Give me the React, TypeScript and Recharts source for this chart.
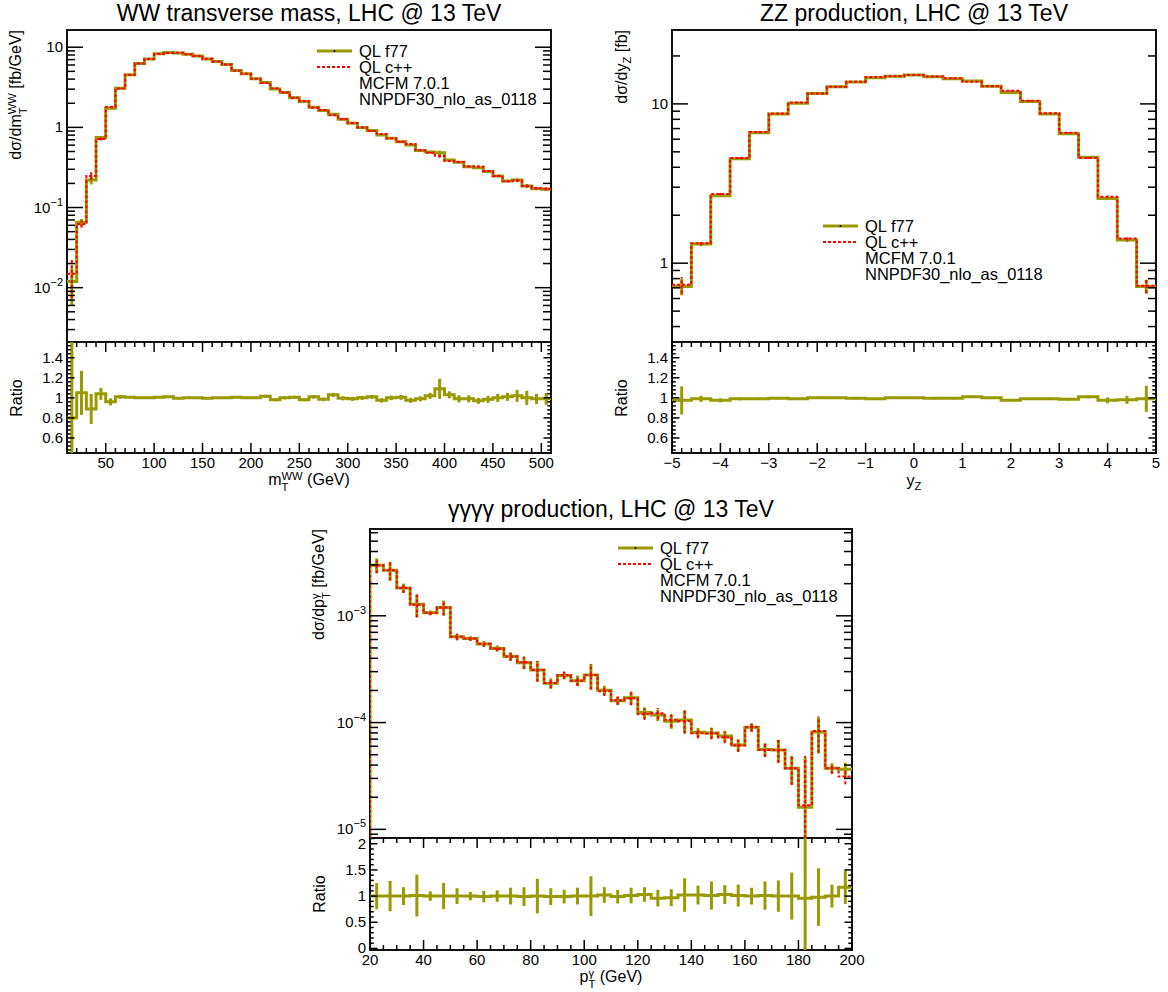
import React from "react";
import { ComposedChart, ErrorBar, Line, XAxis, YAxis } from "recharts";

const FONT = '"Liberation Sans", Arial, Helvetica, sans-serif';
const OLIVE = "#999900";
const RED = "#ff0000";

// WW transverse mass, 10 GeV bins from 10 to 510 GeV
const wwRange: [number, number] = [10, 510];
const wwF77 = [
  0.0119, 0.0653, 0.221, 0.745, 1.73, 3.08, 4.52, 6.25, 7.15, 8.26,
  8.58, 8.5, 8.18, 7.79, 7.15, 6.62, 6.08, 5.12, 4.65, 4.03,
  3.62, 3.02, 2.72, 2.35, 2.1, 1.78, 1.62, 1.46, 1.26, 1.125,
  0.993, 0.911, 0.805, 0.731, 0.664, 0.604, 0.513, 0.494, 0.484, 0.392,
  0.366, 0.323, 0.314, 0.281, 0.248, 0.214, 0.221, 0.186, 0.172, 0.169,
];
const wwCpp = [
  0.0149, 0.0622, 0.248, 0.716, 1.8, 3.05, 4.5, 6.25, 7.15, 8.22,
  8.5, 8.54, 8.18, 7.79, 7.19, 6.62, 6.08, 5.09, 4.65, 4.03,
  3.57, 3.08, 2.72, 2.34, 2.14, 1.76, 1.645, 1.42, 1.266, 1.136,
  0.993, 0.902, 0.826, 0.731, 0.661, 0.619, 0.518, 0.484, 0.444, 0.381,
  0.37, 0.326, 0.324, 0.285, 0.248, 0.212, 0.217, 0.186, 0.174, 0.171,
];
const wwRelErr = [
  0.5, 0.1, 0.12, 0.045, 0.025, 0.012, 0.009, 0.007, 0.006, 0.006,
  0.006, 0.006, 0.006, 0.006, 0.006, 0.006, 0.007, 0.007, 0.007, 0.008,
  0.008, 0.008, 0.009, 0.009, 0.01, 0.01, 0.011, 0.011, 0.012, 0.012,
  0.013, 0.013, 0.014, 0.015, 0.015, 0.016, 0.017, 0.018, 0.06, 0.02,
  0.02, 0.022, 0.022, 0.024, 0.025, 0.026, 0.04, 0.045, 0.035, 0.04,
];
const wwRatio = [
  0.8, 1.05, 0.89, 1.04, 0.96, 1.01, 1.005, 1.0, 1.0, 1.005,
  1.01, 0.995, 1.0, 1.0, 0.995, 1.0, 1.0, 1.005, 1.0, 1.0,
  1.015, 0.98, 1.0, 1.005, 0.98, 1.01, 0.985, 1.03, 0.995, 0.99,
  1.0, 1.01, 0.975, 1.0, 1.005, 0.975, 0.99, 1.02, 1.09, 1.03,
  0.99, 0.99, 0.97, 0.985, 1.0, 1.01, 1.02, 1.0, 0.99, 0.99,
];
const wwRatioErr = [
  0.9, 0.22, 0.15, 0.06, 0.035, 0.02, 0.012, 0.01, 0.01, 0.01,
  0.01, 0.01, 0.01, 0.01, 0.01, 0.01, 0.01, 0.01, 0.012, 0.012,
  0.015, 0.015, 0.015, 0.015, 0.015, 0.018, 0.018, 0.02, 0.02, 0.02,
  0.02, 0.02, 0.022, 0.022, 0.025, 0.025, 0.025, 0.03, 0.1, 0.035,
  0.035, 0.035, 0.03, 0.035, 0.04, 0.04, 0.06, 0.07, 0.05, 0.06,
];

// ZZ rapidity, 0.4 bins from -5 to 5
const zzRange: [number, number] = [-5, 5];
const zzF77 = [
  0.714, 1.32, 2.65, 4.52, 6.6, 8.65, 10.1, 11.6, 12.8, 13.7, 14.6, 14.9, 15.2,
  14.8, 14.4, 13.9, 12.9, 11.8, 10.35, 8.65, 6.5, 4.62, 2.55, 1.4, 0.714,
];
const zzCpp = [
  0.732, 1.333, 2.718, 4.566, 6.667, 8.693, 10.2, 11.6, 12.8, 13.77, 14.75, 14.9, 15.2,
  14.87, 14.47, 13.76, 12.9, 12.1, 10.45, 8.737, 6.599, 4.574, 2.615, 1.429, 0.721,
];
const zzRelErr = [
  0.12, 0.03, 0.015, 0.01, 0.008, 0.007, 0.007, 0.006, 0.006, 0.006, 0.006, 0.006, 0.006,
  0.006, 0.006, 0.006, 0.006, 0.006, 0.007, 0.007, 0.008, 0.01, 0.015, 0.03, 0.1,
];
const zzRatio = [
  0.975, 0.99, 0.975, 0.99, 0.99, 0.995, 0.99, 1.0, 1.0, 0.995, 0.99, 1.0, 1.0,
  0.995, 0.995, 1.01, 1.0, 0.975, 0.99, 0.99, 0.985, 1.01, 0.975, 0.98, 0.99,
];
const zzRatioErr = [
  0.14, 0.03, 0.02, 0.015, 0.012, 0.01, 0.01, 0.01, 0.01, 0.01, 0.01, 0.01, 0.01,
  0.01, 0.01, 0.01, 0.01, 0.01, 0.01, 0.012, 0.012, 0.015, 0.03, 0.04, 0.13,
];

// four photon pT, 5 GeV bins from 20 to 200 GeV
const ggRange: [number, number] = [20, 200];
const ggF77 = [
  2.98e-3, 2.67e-3, 1.82e-3, 1.28e-3, 1.067e-3, 1.197e-3, 6.36e-4, 6.14e-4, 5.43e-4,
  4.94e-4, 4.16e-4, 3.63e-4, 3.1e-4, 2.33e-4, 2.76e-4, 2.47e-4, 2.79e-4, 2.01e-4,
  1.6e-4, 1.71e-4, 1.24e-4, 1.175e-4, 1.03e-4, 1.055e-4, 8.1e-5, 8.0e-5, 7.48e-5,
  6.16e-5, 9.02e-5, 5.61e-5, 5.53e-5, 3.73e-5, 1.61e-5, 8.15e-5, 3.73e-5, 3.65e-5,
];
const ggCpp = [
  2.98e-3, 2.67e-3, 1.82e-3, 1.267e-3, 1.067e-3, 1.197e-3, 6.36e-4, 6.14e-4, 5.48e-4,
  4.94e-4, 4.16e-4, 3.67e-4, 3.1e-4, 2.35e-4, 2.79e-4, 2.47e-4, 2.79e-4, 1.97e-4,
  1.62e-4, 1.69e-4, 1.2e-4, 1.224e-4, 1.062e-4, 1.034e-4, 7.94e-5, 7.92e-5, 7.26e-5,
  6.1e-5, 9.02e-5, 5.55e-5, 5.53e-5, 3.73e-5, 1.68e-5, 8.32e-5, 3.73e-5, 3.12e-5,
];
const ggRelErr = [
  0.16, 0.2, 0.1, 0.24, 0.05, 0.16, 0.07, 0.05, 0.06, 0.06, 0.09, 0.13,
  0.22, 0.11, 0.08, 0.11, 0.27, 0.1, 0.09, 0.14, 0.12, 0.12, 0.15, 0.24,
  0.1, 0.12, 0.12, 0.13, 0.09, 0.14, 0.24, 0.3, 1.9, 0.37, 0.11, 0.15,
];
const ggRatio = [
  1.0, 1.0, 1.0, 1.01, 1.0, 1.0, 1.0, 1.0, 0.99, 1.0, 1.0, 0.99,
  1.0, 0.99, 0.99, 1.0, 1.0, 1.02, 0.99, 1.01, 1.03, 0.96, 0.97, 1.02,
  1.02, 1.01, 1.03, 1.01, 1.0, 1.01, 1.0, 1.0, 0.96, 0.98, 1.0, 1.17,
];
const ggRatioErr = [
  0.25, 0.29, 0.17, 0.4, 0.09, 0.25, 0.15, 0.08, 0.11, 0.11, 0.16, 0.18,
  0.33, 0.16, 0.13, 0.16, 0.38, 0.15, 0.13, 0.15, 0.14, 0.16, 0.16, 0.32,
  0.18, 0.27, 0.18, 0.21, 0.16, 0.27, 0.3, 0.45, 1.9, 0.55, 0.22, 0.32,
];

const legendRows = [
  { kind: "f77", text: "QL f77" },
  { kind: "cpp", text: "QL c++" },
  { kind: "", text: "MCFM 7.0.1" },
  { kind: "", text: "NNPDF30_nlo_as_0118" },
];

type Frame = { l: number; r: number; t: number; m: number; b: number };
type TickSpec = {
  major: number[];
  minor: number[];
  majorLen: number;
  minorLen: number;
  fmt?: (v: number) => React.ReactNode;
};

const TICK_FONT = 15;

const edgesOf = ([lo, hi]: [number, number], n: number) =>
  Array.from({ length: n + 1 }, (_, i) => lo + ((hi - lo) * i) / n);

function steps(edges: number[], vals: number[], floor?: number) {
  const pts = vals.map((v, i) => ({ x: edges[i], y: v }));
  pts.push({ x: edges[vals.length], y: vals[vals.length - 1] });
  if (floor !== undefined) pts.unshift({ x: edges[0], y: floor });
  return pts;
}

function centers(edges: number[], vals: number[], errs: number[], dom: [number, number]) {
  return vals.map((v, i) => ({
    x: (edges[i] + edges[i + 1]) / 2,
    y: v,
    e: [Math.min(errs[i], v - dom[0]), Math.min(errs[i], dom[1] - v)],
  }));
}

function linTicks(lo: number, hi: number, step: number, skip: number[] = []) {
  const out: number[] = [];
  const n = Math.round((hi - lo) / step);
  for (let i = 0; i <= n; i++) {
    const v = Number((lo + i * step).toFixed(6));
    if (!skip.some((s) => Math.abs(s - v) < 1e-9)) out.push(v);
  }
  return out;
}

function logMinor([lo, hi]: [number, number]) {
  const out: number[] = [];
  for (let p = Math.floor(Math.log10(lo)); p <= Math.ceil(Math.log10(hi)); p++) {
    for (let m = 2; m <= 9; m++) {
      const v = Number((m * Math.pow(10, p)).toPrecision(6));
      if (v >= lo && v <= hi) out.push(v);
    }
  }
  return out;
}

const pow10 = (v: number): React.ReactNode => {
  const p = Math.round(Math.log10(v));
  if (p === 0) return "1";
  if (p === 1) return "10";
  return (
    <>
      <tspan>10</tspan>
      <tspan dy={-7} fontSize={11}>
        {"\u2212" + -p}
      </tspan>
    </>
  );
};
const plain = (v: number) => (v < 0 ? "\u2212" + Math.abs(v) : String(v));

function yTick(spec: TickSpec, plotW: number) {
  return (props: any) => {
    const { x, y, payload } = props;
    const v = payload.value;
    const major = spec.major.includes(v);
    const len = major ? spec.majorLen : spec.minorLen;
    return (
      <g>
        <line x1={x} y1={y} x2={x + len} y2={y} stroke="#000" strokeWidth={1.5} />
        <line x1={x + plotW} y1={y} x2={x + plotW - len} y2={y} stroke="#000" strokeWidth={1.5} />
        {major && spec.fmt && (
          <text x={x - 4} y={y + 5} textAnchor="end" fontSize={TICK_FONT} fontFamily={FONT} fill="#000">
            {spec.fmt(v)}
          </text>
        )}
      </g>
    );
  };
}

function xTick(spec: TickSpec, plotH: number, labels: boolean) {
  return (props: any) => {
    const { x, y, payload } = props;
    const v = payload.value;
    const major = spec.major.includes(v);
    const len = major ? spec.majorLen : spec.minorLen;
    return (
      <g>
        <line x1={x} y1={y} x2={x} y2={y - len} stroke="#000" strokeWidth={1.5} />
        <line x1={x} y1={y - plotH} x2={x} y2={y - plotH + len} stroke="#000" strokeWidth={1.5} />
        {labels && major && spec.fmt && (
          <text x={x} y={y + 15} textAnchor="middle" fontSize={TICK_FONT} fontFamily={FONT} fill="#000">
            {spec.fmt(v)}
          </text>
        )}
      </g>
    );
  };
}

function SupSub({ sup, sub }: { sup: string; sub: string }) {
  return (
    <span
      style={{
        display: "inline-flex",
        flexDirection: "column",
        alignItems: "flex-start",
        fontSize: "0.7em",
        lineHeight: 1,
        verticalAlign: "0.45em",
      }}
    >
      <span>{sup}</span>
      <span>{sub}</span>
    </span>
  );
}

function RotText({ x, y, center, children }: { x: number; y: number; center?: boolean; children: React.ReactNode }) {
  return (
    <div style={{ position: "absolute", left: x, top: y, width: 0, height: 0 }}>
      <div
        style={{
          position: "absolute",
          left: 0,
          top: 0,
          whiteSpace: "nowrap",
          fontSize: 16,
          transformOrigin: "0 0",
          transform: center ? "rotate(-90deg) translate(-50%, -50%)" : "rotate(-90deg) translate(-100%, -50%)",
        }}
      >
        {children}
      </div>
    </div>
  );
}

function Legend({ x, y }: { x: number; y: number }) {
  return (
    <>
      {legendRows.map((row, i) => (
        <div
          key={i}
          style={{
            position: "absolute",
            left: x,
            top: y + i * 16.3 - 10,
            height: 20,
            display: "flex",
            alignItems: "center",
            fontSize: 16.5,
            whiteSpace: "nowrap",
          }}
        >
          <svg width={35} height={8} style={{ marginRight: 7 }}>
            {row.kind === "f77" && (
              <>
                <line x1={0} y1={4} x2={35} y2={4} stroke={OLIVE} strokeWidth={3} />
                <circle cx={17.5} cy={4} r={1} fill="#000" />
              </>
            )}
            {row.kind === "cpp" && (
              <line x1={0} y1={4} x2={35} y2={4} stroke={RED} strokeWidth={2} strokeDasharray="3 2" />
            )}
          </svg>
          <span>{row.text}</span>
        </div>
      ))}
    </>
  );
}

const PADL = 60;
const PADR = 24;
const PADT = 12;
const PADB = 4;
const RPADT = 4;
const RPADB = 40;

type PanelProps = {
  frame: Frame;
  xDomain: [number, number];
  yDomain: [number, number];
  rDomain: [number, number];
  f77: number[];
  cpp: number[];
  relErr: number[];
  ratio: number[];
  ratioErr: number[];
  xTicks: TickSpec;
  yTicks: TickSpec;
  rTicks: TickSpec;
  floor?: boolean;
  title: string;
  titleY: number;
  yTitle: React.ReactNode;
  xTitle: React.ReactNode;
  legend: { x: number; y: number };
};

function Panel(p: PanelProps) {
  const f = p.frame;
  const w = f.r - f.l;
  const mh = f.m - f.t;
  const rh = f.b - f.m;
  const edges = edgesOf(p.xDomain, p.f77.length);
  const floor = p.floor ? p.yDomain[0] : undefined;
  const f77Steps = steps(edges, p.f77, floor);
  const cppSteps = steps(edges, p.cpp, floor);
  const f77Pts = centers(edges, p.f77, p.f77.map((v, i) => v * p.relErr[i]), p.yDomain);
  const cppPts = centers(edges, p.cpp, p.cpp.map((v, i) => v * p.relErr[i]), p.yDomain);
  const ratioSteps = steps(edges, p.ratio);
  const ratioPts = centers(edges, p.ratio, p.ratioErr, p.rDomain);
  const xAll = [...p.xTicks.major, ...p.xTicks.minor];
  const axisCommon = {
    tickLine: false,
    axisLine: false,
    tickSize: 0,
    tickMargin: 0,
    interval: 0 as const,
    allowDataOverflow: true,
  };
  return (
    <>
      <div
        style={{
          position: "absolute",
          left: f.l - 1,
          top: f.t - 1,
          width: w + 2,
          height: f.b - f.t + 2,
          border: "2px solid #111",
          boxSizing: "border-box",
        }}
      />
      <div style={{ position: "absolute", left: f.l - 1, top: f.m - 1, width: w + 2, height: 2, background: "#111" }} />
      <div style={{ position: "absolute", left: f.l - PADL, top: f.t - PADT }}>
        <ComposedChart
          width={w + PADL + PADR}
          height={mh + PADT + PADB}
          margin={{ top: PADT, right: PADR, bottom: PADB, left: 0 }}
        >
          <XAxis
            {...axisCommon}
            type="number"
            dataKey="x"
            domain={p.xDomain}
            ticks={xAll}
            tick={xTick(p.xTicks, mh, false)}
            height={0}
          />
          <YAxis
            {...axisCommon}
            type="number"
            scale="log"
            domain={p.yDomain}
            ticks={[...p.yTicks.major, ...p.yTicks.minor]}
            tick={yTick(p.yTicks, w)}
            width={PADL}
          />
          <Line data={f77Steps} dataKey="y" type="stepAfter" stroke={OLIVE} strokeWidth={3} dot={false} activeDot={false} isAnimationActive={false} />
          <Line data={f77Pts} dataKey="y" stroke="none" dot={false} activeDot={false} isAnimationActive={false}>
            <ErrorBar dataKey="e" width={0} stroke={OLIVE} strokeWidth={3} isAnimationActive={false} />
          </Line>
          <Line data={cppSteps} dataKey="y" type="stepAfter" stroke={RED} strokeWidth={2} strokeDasharray="3 2" dot={false} activeDot={false} isAnimationActive={false} />
          <Line data={cppPts} dataKey="y" stroke="none" dot={false} activeDot={false} isAnimationActive={false}>
            <ErrorBar dataKey="e" width={0} stroke={RED} strokeWidth={2} strokeDasharray="3 2" isAnimationActive={false} />
          </Line>
        </ComposedChart>
      </div>
      <div style={{ position: "absolute", left: f.l - PADL, top: f.m - RPADT }}>
        <ComposedChart
          width={w + PADL + PADR}
          height={rh + RPADT + RPADB}
          margin={{ top: RPADT, right: PADR, bottom: 0, left: 0 }}
        >
          <XAxis
            {...axisCommon}
            type="number"
            dataKey="x"
            domain={p.xDomain}
            ticks={xAll}
            tick={xTick(p.xTicks, rh, true)}
            height={RPADB}
          />
          <YAxis
            {...axisCommon}
            type="number"
            domain={p.rDomain}
            ticks={[...p.rTicks.major, ...p.rTicks.minor]}
            tick={yTick(p.rTicks, w)}
            width={PADL}
          />
          <Line data={ratioSteps} dataKey="y" type="stepAfter" stroke={OLIVE} strokeWidth={3} dot={false} activeDot={false} isAnimationActive={false} />
          <Line data={ratioPts} dataKey="y" stroke="none" dot={false} activeDot={false} isAnimationActive={false}>
            <ErrorBar dataKey="e" width={0} stroke={OLIVE} strokeWidth={3} isAnimationActive={false} />
          </Line>
        </ComposedChart>
      </div>
      <div
        style={{
          position: "absolute",
          left: (f.l + f.r) / 2,
          top: p.titleY,
          transform: "translate(-50%, -50%)",
          fontSize: 23,
          whiteSpace: "nowrap",
        }}
      >
        {p.title}
      </div>
      <RotText x={f.l - 49} y={f.t}>
        {p.yTitle}
      </RotText>
      <RotText x={f.l - 50} y={(f.m + f.b) / 2} center>
        Ratio
      </RotText>
      <div
        style={{
          position: "absolute",
          left: (f.l + f.r) / 2,
          top: f.b + 29,
          transform: "translate(-50%, -50%)",
          fontSize: 16,
          whiteSpace: "nowrap",
        }}
      >
        {p.xTitle}
      </div>
      <Legend x={p.legend.x} y={p.legend.y} />
    </>
  );
}

const ratioNarrow: TickSpec = {
  major: [0.6, 0.8, 1, 1.2, 1.4],
  minor: linTicks(0.48, 1.52, 0.04, [0.6, 0.8, 1, 1.2, 1.4]),
  majorLen: 7.5,
  minorLen: 3.75,
  fmt: plain,
};

const ratioWide: TickSpec = {
  major: [0, 0.5, 1, 1.5, 2],
  minor: linTicks(0.1, 2.1, 0.1, [0, 0.5, 1, 1.5, 2]),
  majorLen: 7.5,
  minorLen: 3.75,
  fmt: plain,
};

export default function App() {
  const wwY: [number, number] = [0.0021, 16.4];
  const zzY: [number, number] = [0.32, 29.1];
  const ggY: [number, number] = [8.3e-6, 6.5e-3];
  return (
    <div
      style={{
        position: "absolute",
        left: 0,
        top: 0,
        width: 1168,
        height: 992,
        background: "#fff",
        overflow: "hidden",
        fontFamily: FONT,
        color: "#000",
      }}
    >
      <Panel
        frame={{ l: 67, r: 551, t: 30, m: 342, b: 453 }}
        xDomain={wwRange}
        yDomain={wwY}
        rDomain={[0.45, 1.557]}
        f77={wwF77}
        cpp={wwCpp}
        relErr={wwRelErr}
        ratio={wwRatio}
        ratioErr={wwRatioErr}
        xTicks={{
          major: linTicks(50, 500, 50),
          minor: linTicks(20, 500, 10, linTicks(50, 500, 50)),
          majorLen: 10,
          minorLen: 5,
          fmt: plain,
        }}
        yTicks={{ major: [0.01, 0.1, 1, 10], minor: logMinor(wwY), majorLen: 16, minorLen: 8, fmt: pow10 }}
        rTicks={ratioNarrow}
        title="WW transverse mass, LHC @ 13 TeV"
        titleY={13}
        yTitle={
          <>
            d&sigma;/dm
            <SupSub sup="WW" sub="T" /> [fb/GeV]
          </>
        }
        xTitle={
          <>
            m<SupSub sup="WW" sub="T" /> (GeV)
          </>
        }
        legend={{ x: 317, y: 51 }}
      />
      <Panel
        frame={{ l: 672, r: 1156, t: 30, m: 342, b: 453 }}
        xDomain={zzRange}
        yDomain={zzY}
        rDomain={[0.45, 1.557]}
        f77={zzF77}
        cpp={zzCpp}
        relErr={zzRelErr}
        ratio={zzRatio}
        ratioErr={zzRatioErr}
        xTicks={{
          major: linTicks(-5, 5, 1),
          minor: linTicks(-4.8, 4.8, 0.2, linTicks(-5, 5, 1)),
          majorLen: 10,
          minorLen: 5,
          fmt: plain,
        }}
        yTicks={{ major: [1, 10], minor: logMinor(zzY), majorLen: 16, minorLen: 8, fmt: pow10 }}
        rTicks={ratioNarrow}
        title="ZZ production, LHC @ 13 TeV"
        titleY={13}
        yTitle={
          <>
            d&sigma;/dy<span style={{ fontSize: "0.7em", verticalAlign: "-0.4em" }}>Z</span> [fb]
          </>
        }
        xTitle={
          <>
            y<span style={{ fontSize: "0.7em", verticalAlign: "-0.4em" }}>Z</span>
          </>
        }
        legend={{ x: 823, y: 226 }}
      />
      <Panel
        frame={{ l: 370, r: 852, t: 529, m: 838, b: 950 }}
        xDomain={ggRange}
        yDomain={ggY}
        rDomain={[-0.03, 2.11]}
        f77={ggF77}
        cpp={ggCpp}
        relErr={ggRelErr}
        ratio={ggRatio}
        ratioErr={ggRatioErr}
        xTicks={{
          major: linTicks(20, 200, 20),
          minor: linTicks(25, 195, 5, linTicks(20, 200, 20)),
          majorLen: 10,
          minorLen: 5,
          fmt: plain,
        }}
        yTicks={{ major: [1e-5, 1e-4, 1e-3], minor: logMinor(ggY), majorLen: 16, minorLen: 8, fmt: pow10 }}
        rTicks={ratioWide}
        floor
        title="γγγγ production, LHC @ 13 TeV"
        titleY={509}
        yTitle={
          <>
            d&sigma;/dp
            <SupSub sup="γ" sub="T" /> [fb/GeV]
          </>
        }
        xTitle={
          <>
            p<SupSub sup="γ" sub="T" /> (GeV)
          </>
        }
        legend={{ x: 618, y: 548 }}
      />
    </div>
  );
}
